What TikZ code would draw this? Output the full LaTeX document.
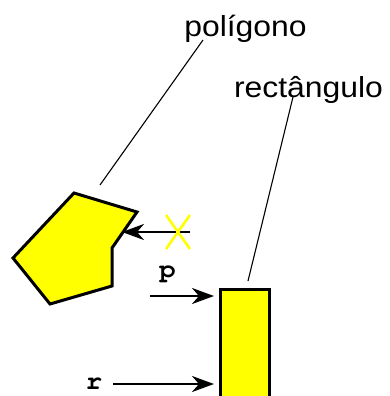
\documentclass[tikz,border=0pt]{standalone}
\usepackage{fontspec}
\setmainfont{Liberation Sans}
\newfontfamily\courfnt{TeX Gyre Cursor}
\usetikzlibrary{arrows.meta}
\definecolor{pureyellow}{RGB}{255,255,0}
\tikzset{
  shapefill/.style={fill=pureyellow, draw=black, line width=3pt, line join=miter},
  arr/.style={line width=2.6pt, -{Stealth[length=22pt,width=16pt,inset=7pt]}},
  leader/.style={line width=1.1pt},
  bigtxt/.style={inner sep=0pt, anchor=base, font=\fontsize{29}{29}\selectfont},
  monotxt/.style={inner sep=0pt, anchor=base, font=\fontsize{26}{26}\selectfont\courfnt\bfseries},
  xmarkline/.style={draw=pureyellow, line width=2.6pt}
}
\begin{document}
\begin{tikzpicture}[x=1pt,y=-1pt]
\useasboundingbox (0,0) rectangle (389,396);
\clip (0,0) rectangle (389,396);
% polygon
\draw[shapefill] (74,193) -- (137,212) -- (112,248) -- (112,286) -- (50,304) -- (13,258) -- cycle;
% rectangle
\draw[shapefill] (220,289) rectangle (269,410);
% coordinates
\coordinate (notch) at (122,232);
\coordinate (xstart) at (190,232);
\coordinate (pstart) at (150,296);
\coordinate (pend) at (214,296);
\coordinate (rstart) at (113,384);
\coordinate (rend) at (214,384);
\coordinate (polytop) at (100,185);
\coordinate (recttop) at (248,281);
% labels
\node[bigtxt] (lpoly) at (245.5,37) {\scalebox{1.1}[1]{polígono}};
\node[bigtxt] (lrect) at (308.5,97) {\scalebox{1.1}[1]{rectângulo}};
\node[monotxt] (lp) at (167.5,277) {\scalebox{1.05}[1]{p}};
\node[monotxt] (lr) at (94,389) {\scalebox{1.05}[1]{r}};
% leaders
\draw[leader] (203,40) -- (polytop);
\draw[leader] (293,97) -- (recttop);
% arrows
\draw[arr] (xstart) -- (notch);
\draw[arr] (pstart) -- (pend);
\draw[arr] (rstart) -- (rend);
% X mark
\draw[xmarkline] (166,215) -- (190,249) (190,215) -- (166,249);
\end{tikzpicture}
\end{document}
